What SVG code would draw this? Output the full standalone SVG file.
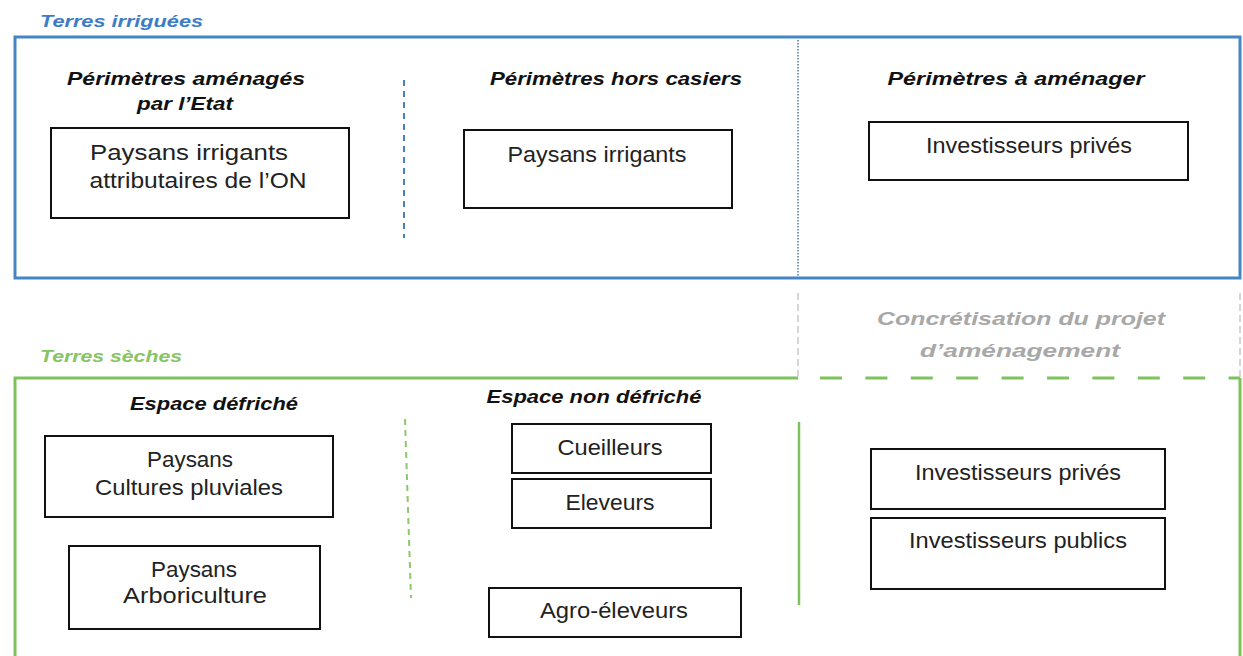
<svg xmlns="http://www.w3.org/2000/svg" width="1243" height="656" viewBox="0 0 1243 656">
<style>
.bg{fill:#ffffff}
.box{fill:#ffffff;stroke:#111111;stroke-width:2}
.bt{font-family:"Liberation Sans",Arial,sans-serif;font-size:21.5px;fill:#222222;text-anchor:middle}
.hd{font-family:"Liberation Sans",Arial,sans-serif;font-size:19px;font-weight:bold;font-style:italic;fill:#111111;text-anchor:middle}
.title{font-family:"Liberation Sans",Arial,sans-serif;font-size:17px;font-weight:bold;font-style:italic}
.blue{fill:none;stroke:#4485c4;stroke-width:3}
.green{fill:none;stroke:#7ec25a;stroke-width:3}
</style>
<rect class="bg" x="0" y="0" width="1243" height="656"/>

<g id="frames">
  <text class="title" x="40" y="27" fill="#3d7cc6" textLength="163" lengthAdjust="spacingAndGlyphs">Terres irriguées</text>
  <rect id="frame-irriguees" class="blue" x="15" y="37" width="1225" height="241"/>
  <text class="title" x="40" y="362" fill="#86c464" textLength="142" lengthAdjust="spacingAndGlyphs">Terres sèches</text>
  <path id="frame-seches" class="green" d="M15,660 L15,378 L798,378"/>
  <path class="green" d="M798,378 L1240,378" stroke-dasharray="22 23.4" stroke-dashoffset="23.4"/>
  <path class="green" d="M1240,378 L1240,660"/>
</g>

<g id="connectors">
  <line x1="404" y1="80" x2="404" y2="238" stroke="#4a7fc0" stroke-width="2" stroke-dasharray="6 5"/>
  <line x1="798" y1="40" x2="798" y2="277" stroke="#7f9cc0" stroke-width="2" stroke-dasharray="1.5 1.5"/>
  <line x1="405" y1="419" x2="411" y2="598" stroke="#8cc86c" stroke-width="2" stroke-dasharray="6 5"/>
  <line x1="798" y1="293" x2="798" y2="377" stroke="#c8c8c8" stroke-width="1.5" stroke-dasharray="7 4"/>
  <line x1="1240" y1="293" x2="1240" y2="377" stroke="#c8c8c8" stroke-width="1.5" stroke-dasharray="7 4"/>
  <line x1="799" y1="422" x2="799" y2="605" stroke="#7ec25a" stroke-width="2.5"/>
</g>

<g id="headers">
  <text class="hd" x="186" y="85" textLength="238" lengthAdjust="spacingAndGlyphs">Périmètres aménagés</text>
  <text class="hd" x="185" y="110" textLength="96" lengthAdjust="spacingAndGlyphs">par l’Etat</text>
  <text class="hd" x="616" y="85" textLength="252" lengthAdjust="spacingAndGlyphs">Périmètres hors casiers</text>
  <text class="hd" x="1016" y="85" textLength="257" lengthAdjust="spacingAndGlyphs">Périmètres à aménager</text>
  <text class="hd" x="214" y="410" textLength="168" lengthAdjust="spacingAndGlyphs">Espace défriché</text>
  <text class="hd" x="594" y="403" textLength="215" lengthAdjust="spacingAndGlyphs">Espace non défriché</text>
  <text class="hd" x="1021" y="325" style="fill:#a8a8a8" textLength="288" lengthAdjust="spacingAndGlyphs">Concrétisation du projet</text>
  <text class="hd" x="1020" y="357" style="fill:#a8a8a8" textLength="200" lengthAdjust="spacingAndGlyphs">d’aménagement</text>
</g>

<g id="node-paysans-on">
  <rect class="box" x="51" y="128" width="298" height="90"/>
  <text class="bt" x="189" y="160" textLength="198" lengthAdjust="spacingAndGlyphs">Paysans irrigants</text>
  <text class="bt" x="198" y="188" textLength="217" lengthAdjust="spacingAndGlyphs">attributaires de l’ON</text>
</g>
<g id="node-paysans-irrigants">
  <rect class="box" x="464" y="130" width="268" height="78"/>
  <text class="bt" x="597" y="162" textLength="179" lengthAdjust="spacingAndGlyphs">Paysans irrigants</text>
</g>
<g id="node-investisseurs-prives-1">
  <rect class="box" x="869" y="122" width="319" height="58"/>
  <text class="bt" x="1029" y="153" textLength="206" lengthAdjust="spacingAndGlyphs">Investisseurs privés</text>
</g>
<g id="node-cultures-pluviales">
  <rect class="box" x="45" y="436" width="288" height="81"/>
  <text class="bt" x="190" y="467" textLength="86" lengthAdjust="spacingAndGlyphs">Paysans</text>
  <text class="bt" x="189" y="495" textLength="188" lengthAdjust="spacingAndGlyphs">Cultures pluviales</text>
</g>
<g id="node-arboriculture">
  <rect class="box" x="69" y="546" width="251" height="83"/>
  <text class="bt" x="194" y="577" textLength="86" lengthAdjust="spacingAndGlyphs">Paysans</text>
  <text class="bt" x="195" y="603" textLength="144" lengthAdjust="spacingAndGlyphs">Arboriculture</text>
</g>
<g id="node-cueilleurs">
  <rect class="box" x="512" y="424" width="199" height="49"/>
  <text class="bt" x="610" y="455" textLength="105" lengthAdjust="spacingAndGlyphs">Cueilleurs</text>
</g>
<g id="node-eleveurs">
  <rect class="box" x="512" y="479" width="199" height="49"/>
  <text class="bt" x="610" y="510" textLength="89" lengthAdjust="spacingAndGlyphs">Eleveurs</text>
</g>
<g id="node-agro-eleveurs">
  <rect class="box" x="489" y="588" width="252" height="49"/>
  <text class="bt" x="614" y="618" textLength="148" lengthAdjust="spacingAndGlyphs">Agro-éleveurs</text>
</g>
<g id="node-investisseurs-prives-2">
  <rect class="box" x="871" y="449" width="294" height="60"/>
  <text class="bt" x="1018" y="480" textLength="206" lengthAdjust="spacingAndGlyphs">Investisseurs privés</text>
</g>
<g id="node-investisseurs-publics">
  <rect class="box" x="871" y="518" width="294" height="71"/>
  <text class="bt" x="1018" y="548" textLength="218" lengthAdjust="spacingAndGlyphs">Investisseurs publics</text>
</g>
</svg>
